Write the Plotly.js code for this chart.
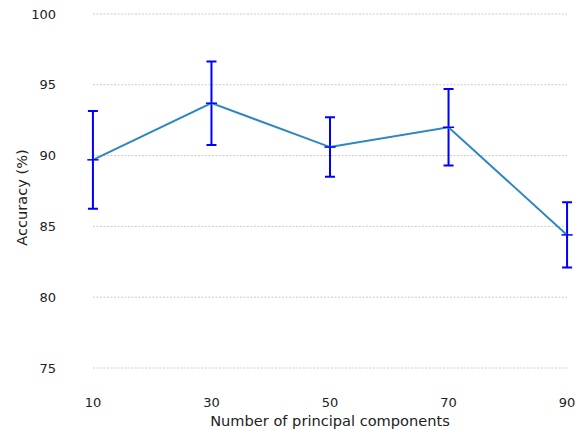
<!DOCTYPE html>
<html><head><meta charset="utf-8">
<script src="https://cdn.plot.ly/plotly-3.0.1.min.js"></script>
<style>html,body{margin:0;padding:0;background:#fff}</style>
</head><body><div id="chart" style="width:576px;height:430px"></div>
<script>
const components = [10, 30, 50, 70, 90];
const accuracy = [89.7, 93.7, 90.6, 92.0, 84.4];
const errorVals = [3.45, 2.95, 2.1, 2.7, 2.3];
const yTicks = [75, 80, 85, 90, 95, 100];

const trace = {
  x: components, y: accuracy, type: 'scatter', mode: 'lines+markers',
  line: {color: '#2e86c1', width: 2},
  marker: {symbol: 'line-ew', size: 8, color: '#0000ff', line: {color: '#0000ff', width: 1.5}},
  error_y: {type: 'data', array: errorVals, visible: true, color: '#0000ff', thickness: 2, width: 5},
  cliponaxis: false, hoverinfo: 'none'
};
const gridShapes = yTicks.map(v => ({
  type: 'line', xref: 'x', yref: 'y', x0: components[0], x1: components[components.length - 1],
  y0: v, y1: v, layer: 'below', line: {color: '#bdbdbd', width: 0.8, dash: '2px,1.5px'}
}));
const layout = {
  width: 576, height: 430,
  margin: {l: 87, r: 3, t: 10, b: 45},
  paper_bgcolor: '#fff', plot_bgcolor: '#fff',
  showlegend: false,
  font: {family: 'DejaVu Sans', size: 13, color: '#222'},
  shapes: gridShapes,
  xaxis: {range: [9, 91], tickvals: components, ticktext: components.map(String),
    showgrid: false, zeroline: false, showline: false, ticks: '', ticklabelstandoff: 8,
    title: {text: 'Number of principal components', font: {size: 14.6}, standoff: 6}},
  yaxis: {range: [73.8, 100.28], tickvals: yTicks, ticktext: yTicks.map(String),
    showgrid: false, zeroline: false, showline: false, ticks: '', ticklabelstandoff: 30,
    title: {text: 'Accuracy (%)', font: {size: 14.6}, standoff: 0}}
};
Plotly.newPlot('chart', [trace], layout, {displayModeBar: false, staticPlot: true});
</script></body></html>
